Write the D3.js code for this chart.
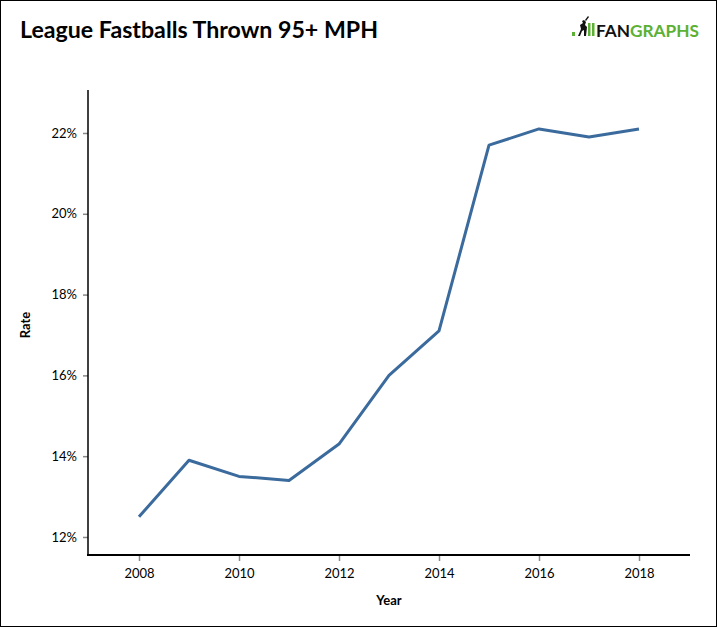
<!DOCTYPE html>
<html><head><meta charset="utf-8">
<script src="https://cdn.jsdelivr.net/npm/d3@7"></script>
<style>
html,body{margin:0;padding:0;background:#fff;}
svg{display:block;}
text{font-family:Lato,"Open Sans",sans-serif;}
</style></head>
<body>
<svg id="c" width="717" height="627"></svg>
<script>
const years = [2008,2009,2010,2011,2012,2013,2014,2015,2016,2017,2018];
const rates = [12.5,13.9,13.5,13.4,14.3,16.0,17.1,21.7,22.1,21.9,22.1];
const yTicks = [12,14,16,18,20,22];
const xTicks = [2008,2010,2012,2014,2016,2018];

(function(){
const svg = d3.select("#c");
svg.append("rect").attr("x",0.5).attr("y",0.5).attr("width",716).attr("height",626)
  .attr("fill","#fff").attr("stroke","#000").attr("stroke-width",1);

const pl=88, pr=690, pt=90, pb=555;
const x = d3.scaleLinear().domain([2006.98,2019.02]).range([pl,pr]);
const y = d3.scaleLinear().domain([11.554,23.064]).range([pb,pt]);

svg.append("text").attr("x",20).attr("y",38).attr("font-size",22.5).attr("font-weight","bold")
  .attr("fill","#000").attr("textLength",358).attr("lengthAdjust","spacingAndGlyphs")
  .text("League Fastballs Thrown 95+ MPH");

// logo
const logo = svg.append("g");
logo.append("rect").attr("x",572).attr("y",32).attr("width",3).attr("height",4).attr("fill","#5cb135");
logo.append("path").attr("d","M578,36 L581,29 L580,25 L583,23 L582,21 L584,20 L586,22 L585,25 L587,27 L586,36 L584,36 L584,30 L582,31 L580,36 Z M585,20 L588,16 L589,17 L586,21 Z").attr("fill","#111");
logo.append("rect").attr("x",588).attr("y",23).attr("width",2.5).attr("height",13).attr("fill","#5cb135");
logo.append("rect").attr("x",592).attr("y",23).attr("width",2.5).attr("height",13).attr("fill","#5cb135");
const lt = logo.append("text").attr("x",596).attr("y",36.5).attr("font-size",17.5).attr("font-weight","bold")
  .attr("font-family","'Liberation Sans',Arial,sans-serif").attr("textLength",103).attr("lengthAdjust","spacingAndGlyphs");
lt.append("tspan").attr("fill","#111").text("FAN");
lt.append("tspan").attr("fill","#5cb135").text("GRAPHS");

// y axis
const ya = svg.append("g").attr("transform",`translate(${pl},0)`)
  .call(d3.axisLeft(y).tickValues(yTicks).tickSize(5).tickPadding(6).tickFormat(d=>d+"%"));
ya.select(".domain").remove();
ya.selectAll(".tick line").attr("stroke","#888").attr("stroke-width",1.5);
ya.selectAll(".tick text").attr("font-size",13).attr("fill","#000").attr("font-family","Lato,sans-serif");
svg.append("line").attr("x1",pl).attr("x2",pl).attr("y1",pt).attr("y2",pb+1)
  .attr("stroke","#000").attr("stroke-width",1.5);

// x axis
const xa = svg.append("g").attr("transform",`translate(0,${pb})`)
  .call(d3.axisBottom(x).tickValues(xTicks).tickSize(6).tickPadding(8).tickFormat(d3.format("d")));
xa.select(".domain").remove();
xa.selectAll(".tick line").attr("stroke","#888").attr("stroke-width",1.5);
xa.selectAll(".tick text").attr("font-size",13).attr("fill","#000").attr("font-family","Lato,sans-serif");
svg.append("line").attr("x1",pl-1).attr("x2",pr).attr("y1",pb).attr("y2",pb)
  .attr("stroke","#000").attr("stroke-width",2);

svg.append("text").attr("x",389).attr("y",605).attr("text-anchor","middle").attr("font-size",13)
  .attr("font-weight","bold").attr("fill","#000").text("Year");
svg.append("text").attr("transform","translate(30,325) rotate(-90)").attr("text-anchor","middle")
  .attr("font-size",13).attr("font-weight","bold").attr("fill","#000").text("Rate");

const line = d3.line().x((d,i)=>x(years[i])).y(d=>y(d));
svg.append("path").datum(rates).attr("d",line).attr("fill","none")
  .attr("stroke","#3b6a9d").attr("stroke-width",3).attr("stroke-linejoin","round");
})();
</script>
</body></html>
